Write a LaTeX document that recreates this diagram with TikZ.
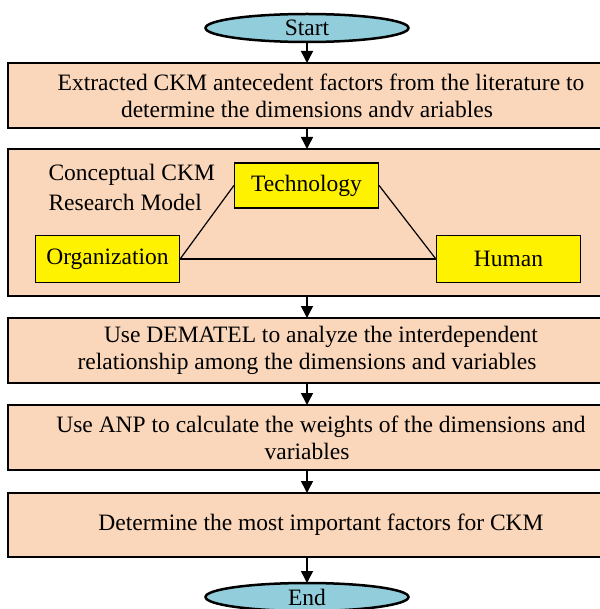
\documentclass[tikz,border=0pt]{standalone}
\usepackage{fontspec}
\setmainfont{Liberation Serif}
\usetikzlibrary{shapes.geometric, arrows.meta, positioning}

\definecolor{peach}{HTML}{FAD6BA}
\definecolor{termblue}{HTML}{92CDDC}

\tikzset{
    stepbox/.style = {draw, line width=2.5pt, fill=peach, minimum width=598pt,
                      inner sep=0pt, outer sep=0pt, align=center},
    terminal/.style = {ellipse, draw, line width=2.5pt, fill=termblue,
                       minimum width=203pt, minimum height=28pt, inner sep=0pt,
                       outer sep=0pt},
    factor/.style = {draw, line width=1.2pt, fill=yellow, minimum width=144pt,
                     minimum height=47pt, inner sep=0pt},
    flow/.style = {-{Triangle[length=12pt, width=12pt]}, line width=1.5pt}
}

\begin{document}
\begin{tikzpicture} [x=1pt, y=1pt, node distance = 21pt,
                     font=\fontsize{23.5}{27}\selectfont]
        \useasboundingbox (0,0) rectangle (599,-609);

        \node (start) [terminal] at (307,-28) {Start};
        \node (extract) [stepbox, minimum height=65pt, below = of start]
            {\hspace*{28pt}Extracted CKM antecedent factors from the literature to\\
             determine the dimensions andv ariables};
        \node (model) [stepbox, minimum height=147pt, below = of extract] {};
        \node (dematel) [stepbox, minimum height=65pt, below = 22pt of model]
            {\hspace*{28pt}Use DEMATEL to analyze the interdependent\\
             relationship among the dimensions and variables};
        \node (anp) [stepbox, minimum height=65pt, below = 22pt of dematel]
            {\hspace*{28pt}Use ANP to calculate the weights of the dimensions and\\
             variables};
        \node (decide) [stepbox, minimum height=64pt, below = 23pt of anp]
            {\hspace*{28pt}Determine the most important factors for CKM};
        \node (end) [terminal, below = 26pt of decide] {End};

        % research model inside the second box
        \node (label) [anchor=west, align=left] at (45,-187)
            {Conceptual CKM\\[3pt] Research Model};
        \node (tech) [factor, minimum height=45pt] at (306.5,-185.5) {Technology};
        \node (org) [factor] at (107.5,-259) {Organization};
        \node (human) [factor] at (508.5,-259) {Human};

        \draw [line width=1.2pt] (tech.west) -- (org.east);
        \draw [line width=1.2pt] (tech.east) -- (human.west);
        \draw [line width=1.2pt] (org.east) -- (human.west);

        \path [flow] (start) edge (extract);
        \path [flow] (extract) edge (model);
        \path [flow] (model) edge (dematel);
        \path [flow] (dematel) edge (anp);
        \path [flow] (anp) edge (decide);
        \path [flow] (decide) edge (end);
    \end{tikzpicture}
\end{document}
